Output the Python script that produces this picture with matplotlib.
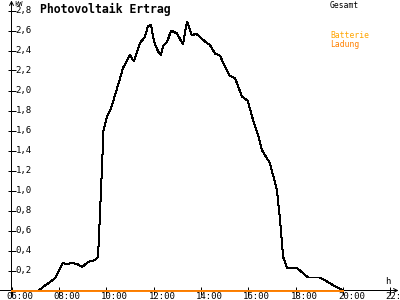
import matplotlib
matplotlib.use("Agg")
import matplotlib.pyplot as plt

# data (hours, kW)
hours = [6.0, 7.16, 7.33, 7.63, 7.84, 7.96, 8.17, 8.34, 8.55, 8.77, 8.98, 9.23, 9.53,
         9.65, 9.67, 9.78, 9.885, 10.03, 10.19, 10.29, 10.5, 10.71, 11.0, 11.17, 11.43,
         11.64, 11.76, 11.89, 12.02, 12.19, 12.31, 12.4, 12.57, 12.74, 12.99, 13.24,
         13.41, 13.62, 13.79, 14.17, 14.38, 14.59, 14.8, 15.01, 15.22, 15.44, 15.73,
         15.98, 16.2, 16.45, 16.57, 16.91, 17.21, 17.34, 17.47, 17.64, 18.06, 18.52,
         19.03, 19.32, 19.65, 20.0]
gesamt = [0.0, 0.0, 0.035, 0.085, 0.125, 0.175, 0.275, 0.265, 0.275, 0.265, 0.235, 0.285,
          0.305, 0.335, 0.42, 1.0, 1.6, 1.735, 1.815, 1.89, 2.055, 2.225, 2.355, 2.29,
          2.475, 2.54, 2.64, 2.655, 2.49, 2.39, 2.355, 2.445, 2.485, 2.6, 2.57, 2.46,
          2.69, 2.55, 2.57, 2.49, 2.455, 2.37, 2.35, 2.24, 2.145, 2.125, 1.94, 1.895,
          1.705, 1.525, 1.405, 1.275, 1.005, 0.705, 0.335, 0.225, 0.225, 0.13, 0.13,
          0.09, 0.045, 0.0]
batt_hours = [6.0, 20.0]
batt_ladung = [0.0, 0.0]

xticks = [6, 8, 10, 12, 14, 16, 18, 20, 22]
xlabels = ["06:00", "08:00", "10:00", "12:00", "14:00", "16:00", "18:00", "20:00", "22:"]
yticks = [0.2, 0.4, 0.6, 0.8, 1.0, 1.2, 1.4, 1.6, 1.8, 2.0, 2.2, 2.4, 2.6, 2.8]
ylabels = ["0,2", "0,4", "0,6", "0,8", "1,0", "1,2", "1,4", "1,6", "1,8", "2,0",
           "2,2", "2,4", "2,6", "2,8"]

MONO = "DejaVu Sans Mono"
W, H = 400, 300
x0, y0 = 11.5, 9.5          # axis origin in pixels from left / bottom
ax_w, ax_h = 387.0, 285.0
LW = 0.72                   # one pixel at 100 dpi

fig = plt.figure(figsize=(4, 3), dpi=100, facecolor="white")
ax = fig.add_axes([x0 / W, y0 / H, ax_w / W, ax_h / H])
ax.set_xlim(6, 6 + ax_w / 23.68)
ax.set_ylim(0, 2.85)
for s in ax.spines.values():
    s.set_visible(False)

ax.plot(hours, gesamt, color="black", lw=LW, antialiased=False, zorder=3)
ax.plot(batt_hours, batt_ladung, color="#ff8000", lw=1.4, zorder=4, clip_on=False)

# axes with arrows
ax.annotate("", xy=(1.0, 0), xytext=(-x0 / ax_w, 0), xycoords="axes fraction",
            arrowprops=dict(arrowstyle="->", color="black", lw=LW,
                            shrinkA=0, shrinkB=0, mutation_scale=7), zorder=2)
ax.annotate("", xy=(0, 1.0 + 5 / ax_h), xytext=(0, -y0 / ax_h + 0.01), xycoords="axes fraction",
            arrowprops=dict(arrowstyle="->", color="black", lw=LW,
                            shrinkA=0, shrinkB=0, mutation_scale=7), zorder=2)

ax.set_xticks(xticks)
ax.set_yticks(yticks)
ax.set_xticklabels([])
ax.set_yticklabels([])
ax.tick_params(direction="inout", length=6, width=LW, color="black")

for t, lab in zip(xticks, xlabels):
    ax.annotate(lab, xy=(t, 0), xycoords=("data", "axes fraction"), xytext=(-5, -6),
                textcoords="offset pixels", ha="left", va="center",
                fontsize=6.5, family=MONO, annotation_clip=False)
for v, lab in zip(yticks, ylabels):
    ax.annotate(lab, xy=(0, v), xycoords=("axes fraction", "data"), xytext=(4, 0),
                textcoords="offset pixels", ha="left", va="center",
                fontsize=6.5, family=MONO, annotation_clip=False)

fig.text(14 / W, 1 - 4 / H, "kW", fontsize=5, family=MONO, ha="left", va="center")
fig.text(385 / W, 1 - 282 / H, "h", fontsize=6.5, family=MONO, ha="left", va="center")
fig.text(40 / W, 1 - 9 / H, "Photovoltaik Ertrag", fontsize=8.3, family=MONO,
         fontweight="bold", ha="left", va="center")
fig.text(330 / W, 1 - 5 / H, "Gesamt", fontsize=5.8, family=MONO, ha="left", va="center")
fig.text(330 / W, 1 - 36 / H, "Batterie", fontsize=5.8, family=MONO, color="#ffa500",
         ha="left", va="center")
fig.text(330 / W, 1 - 44 / H, "Ladung", fontsize=5.8, family=MONO, color="#ff8000",
         ha="left", va="center")

fig.savefig("out.png", dpi=100, facecolor="white")
